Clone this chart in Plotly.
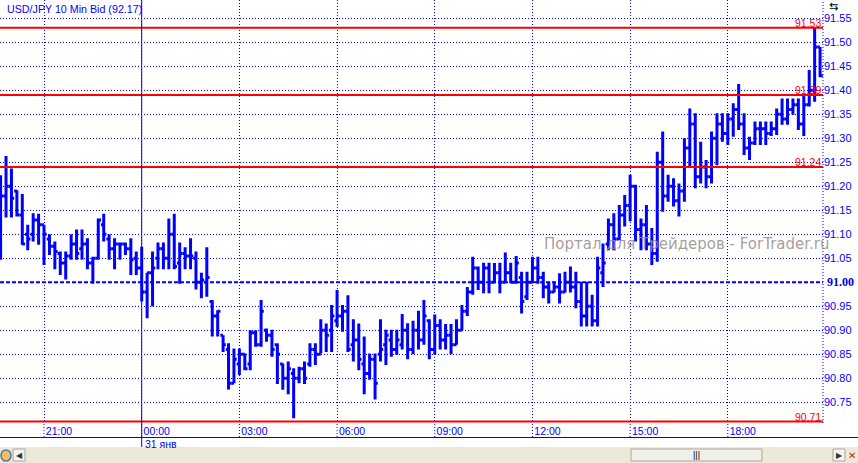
import plotly.graph_objects as go
import pandas as pd

# ---------------- data ----------------
times = pd.date_range("2010-01-30 19:40", periods=152, freq="10min")

opens = [91.15, 91.18, 91.20, 91.19, 91.14, 91.10, 91.10, 91.13, 91.12, 91.09,
         91.075, 91.06, 91.04, 91.055, 91.08, 91.07, 91.08, 91.04, 91.05, 91.12,
         91.09, 91.07, 91.08, 91.08, 91.07, 91.05, 91.03, 90.98, 91.02, 91.05,
         91.07, 91.05, 91.10, 91.04, 91.06, 91.055, 91.05, 91.00, 91.00, 90.96,
         90.93, 90.89, 90.86, 90.79, 90.83, 90.85, 90.83, 90.895, 90.87, 90.90,
         90.89, 90.87, 90.83, 90.80, 90.81, 90.80, 90.82, 90.83, 90.86, 90.85,
         90.90, 90.90, 90.92, 90.93, 90.94, 90.87, 90.88, 90.83, 90.81, 90.84,
         90.85, 90.87, 90.88, 90.86, 90.87, 90.90, 90.86, 90.90, 90.88, 90.92,
         90.86, 90.91, 90.88, 90.89, 90.87, 90.90, 90.94, 90.98, 91.03, 91.00,
         91.03, 91.00, 91.02, 91.00, 91.02, 91.00, 91.01, 90.97, 91.00, 91.03,
         91.01, 90.99, 90.98, 90.99, 90.98, 91.00, 90.99, 90.96, 90.93, 90.95,
         90.92, 91.02, 91.08, 91.12, 91.09, 91.14, 91.16, 91.20, 91.11, 91.12,
         91.08, 91.06, 91.25, 91.18, 91.20, 91.17, 91.19, 91.28, 91.33, 91.22,
         91.24, 91.22, 91.30, 91.33, 91.31, 91.34, 91.36, 91.33, 91.28, 91.29,
         91.32, 91.32, 91.31, 91.32, 91.35, 91.34, 91.36, 91.37, 91.33, 91.37,
         91.40, 91.49]
highs = [91.223, 91.263, 91.237, 91.192, 91.184, 91.12, 91.144, 91.143, 91.12, 91.10,
         91.085, 91.064, 91.064, 91.10, 91.11, 91.11, 91.092, 91.053, 91.133, 91.143,
         91.10, 91.092, 91.083, 91.083, 91.092, 91.064, 91.074, 91.02, 91.064, 91.083,
         91.083, 91.133, 91.143, 91.083, 91.073, 91.092, 91.064, 91.02, 91.073, 90.963,
         90.942, 90.89, 90.873, 90.862, 90.862, 90.852, 90.90, 90.90, 90.963, 90.904,
         90.901, 90.873, 90.831, 90.835, 90.821, 90.824, 90.835, 90.873, 90.873, 90.923,
         90.914, 90.953, 90.984, 90.953, 90.973, 90.923, 90.914, 90.887, 90.852, 90.852,
         90.923, 90.901, 90.901, 90.901, 90.934, 90.915, 90.92, 90.941, 90.963, 90.923,
         90.933, 90.923, 90.913, 90.913, 90.923, 90.953, 90.99, 91.053, 91.033, 91.041,
         91.041, 91.04, 91.041, 91.062, 91.041, 91.055, 91.022, 91.022, 91.053, 91.053,
         91.022, 91.001, 91.001, 91.019, 91.022, 91.033, 91.022, 91.001, 91.001, 90.974,
         91.053, 91.081, 91.133, 91.144, 91.161, 91.182, 91.224, 91.203, 91.133, 91.161,
         91.113, 91.272, 91.314, 91.224, 91.217, 91.206, 91.30, 91.362, 91.352, 91.293,
         91.255, 91.314, 91.352, 91.352, 91.352, 91.373, 91.413, 91.352, 91.303, 91.335,
         91.335, 91.335, 91.335, 91.362, 91.383, 91.383, 91.383, 91.383, 91.39, 91.442,
         91.531, 91.49]
lows = [91.047, 91.135, 91.135, 91.137, 91.078, 91.067, 91.085, 91.078, 91.036, 91.057,
        91.027, 91.015, 91.006, 91.047, 91.047, 91.047, 91.027, 90.997, 91.047, 91.085,
        91.047, 91.027, 91.047, 91.057, 91.015, 91.015, 90.960, 90.925, 90.950, 91.027,
        91.027, 91.027, 91.027, 90.997, 91.027, 91.027, 90.985, 90.967, 90.97, 90.887,
        90.887, 90.855, 90.777, 90.79, 90.807, 90.817, 90.817, 90.866, 90.866, 90.876,
        90.845, 90.788, 90.776, 90.767, 90.717, 90.79, 90.788, 90.824, 90.828, 90.852,
        90.855, 90.855, 90.907, 90.897, 90.855, 90.835, 90.817, 90.767, 90.797, 90.756,
        90.835, 90.828, 90.845, 90.849, 90.86, 90.84, 90.85, 90.86, 90.87, 90.84,
        90.85, 90.86, 90.86, 90.85, 90.87, 90.90, 90.93, 90.974, 90.984, 90.977,
        90.977, 90.998, 90.977, 90.998, 90.998, 90.997, 90.935, 90.963, 90.998, 90.997,
        90.967, 90.956, 90.979, 90.956, 90.979, 90.979, 90.946, 90.908, 90.908, 90.908,
        90.908, 90.99, 91.067, 91.067, 91.088, 91.116, 91.127, 91.085, 91.067, 91.067,
        91.036, 91.043, 91.147, 91.168, 91.158, 91.137, 91.168, 91.238, 91.196, 91.206,
        91.196, 91.206, 91.244, 91.293, 91.286, 91.303, 91.317, 91.265, 91.255, 91.286,
        91.286, 91.286, 91.305, 91.307, 91.328, 91.328, 91.349, 91.317, 91.305, 91.366,
        91.376, 91.427]
closes = [91.18, 91.20, 91.175, 91.14, 91.08, 91.09, 91.13, 91.12, 91.10, 91.075,
          91.064, 91.04, 91.055, 91.08, 91.06, 91.08, 91.04, 91.05, 91.13, 91.10,
          91.07, 91.08, 91.08, 91.07, 91.047, 91.03, 90.98, 91.02, 91.03, 91.07,
          91.05, 91.10, 91.033, 91.06, 91.055, 91.055, 91.00, 91.005, 91.01, 90.93,
          90.94, 90.87, 90.79, 90.84, 90.85, 90.82, 90.895, 90.87, 90.94, 90.89,
          90.86, 90.85, 90.80, 90.82, 90.80, 90.82, 90.80, 90.86, 90.85, 90.90,
          90.89, 90.93, 90.93, 90.94, 90.86, 90.88, 90.84, 90.81, 90.84, 90.79,
          90.86, 90.89, 90.86, 90.88, 90.90, 90.86, 90.90, 90.88, 90.93, 90.86,
          90.91, 90.88, 90.89, 90.87, 90.90, 90.94, 90.98, 91.03, 91.00, 91.03,
          91.00, 91.02, 91.00, 91.02, 91.00, 91.04, 90.96, 91.00, 91.03, 91.01,
          90.99, 90.98, 90.99, 90.98, 91.00, 90.99, 90.96, 90.93, 90.95, 90.92,
          91.03, 91.04, 91.12, 91.09, 91.14, 91.16, 91.20, 91.11, 91.12, 91.08,
          91.06, 91.25, 91.18, 91.20, 91.17, 91.19, 91.28, 91.33, 91.22, 91.24,
          91.22, 91.30, 91.33, 91.31, 91.34, 91.36, 91.33, 91.28, 91.29, 91.32,
          91.32, 91.31, 91.32, 91.35, 91.34, 91.36, 91.37, 91.33, 91.37, 91.40,
          91.49, 91.43]

level_lines = [91.53, 91.39, 91.24, 90.71]
base_level = 91.00
ytick_vals = [90.75, 90.80, 90.85, 90.90, 90.95, 91.05, 91.10, 91.15, 91.20,
              91.25, 91.30, 91.35, 91.40, 91.45, 91.50, 91.55]
xtick_times = ["2010-01-30 21:00", "2010-01-31 00:00", "2010-01-31 03:00",
               "2010-01-31 06:00", "2010-01-31 09:00", "2010-01-31 12:00",
               "2010-01-31 15:00", "2010-01-31 18:00"]
xtick_labels = ["21:00", "00:00", "03:00", "06:00", "09:00", "12:00", "15:00", "18:00"]
title_text = "USD/JPY 10 Min Bid (92.17)"
day_label = "31 янв"
day_time = "2010-01-31 00:00"
watermark = "Портал для Трейдеров - ForTrader.ru"

# ---------------- figure ----------------
W, H = 858, 463
ML, MR, MT, MB = 0, 35, 0, 40
PW, PH = W - ML - MR, H - MT - MB
BLUE = "#0000ff"
RED = "#ff0000"
DOT = "1px,2px"
FONT = "Liberation Sans"


def py(px_from_top):
    """paper y from pixel row"""
    return 1 - (px_from_top - MT) / PH


def px(px_from_left):
    return (px_from_left - ML) / PW


fig = go.Figure()
fig.add_trace(go.Ohlc(
    x=times, open=opens, high=highs, low=lows, close=closes,
    increasing=dict(line=dict(color=BLUE, width=3)),
    decreasing=dict(line=dict(color=BLUE, width=3)),
    tickwidth=0.5, hoverinfo="skip", showlegend=False,
))

x_start = times[0] - pd.Timedelta(minutes=1.1)
x_end = times[0] + pd.Timedelta(minutes=1515.4)

shapes = []
for lv in level_lines:
    shapes.append(dict(type="line", xref="paper", yref="y", x0=0, x1=1, y0=lv, y1=lv,
                       line=dict(color=RED, width=2), layer="above"))
shapes.append(dict(type="line", xref="paper", yref="y", x0=0, x1=1, y0=base_level, y1=base_level,
                   line=dict(color=BLUE, width=2, dash="4px,2px"), layer="above"))
for t in xtick_times:
    shapes.append(dict(type="line", xref="x", yref="paper", x0=t, x1=t, y0=py(437), y1=0,
                       line=dict(color=BLUE, width=1, dash=DOT)))
shapes.append(dict(type="line", xref="x", yref="paper", x0=day_time, x1=day_time, y0=py(448), y1=1,
                   line=dict(color=BLUE, width=1), layer="above"))
shapes.append(dict(type="line", xref="paper", yref="paper", x0=1, x1=1, y0=0, y1=1,
                   line=dict(color=BLUE, width=1, dash=DOT)))
shapes.append(dict(type="line", xref="paper", yref="paper", x0=0, x1=px(W), y0=py(437.5), y1=py(437.5),
                   line=dict(color=BLUE, width=1)))
# bottom scrollbar band
shapes.append(dict(type="rect", xref="paper", yref="paper", x0=0, x1=px(W), y0=py(H), y1=py(447),
                   fillcolor="#ece9d8", line=dict(width=0)))
shapes.append(dict(type="rect", xref="paper", yref="paper", x0=px(631), x1=px(762), y0=py(461), y1=py(449),
                   fillcolor="#f0efe8", line=dict(color="#a8a8a0", width=1)))
shapes.append(dict(type="rect", xref="paper", yref="paper", x0=px(13), x1=px(25), y0=py(461), y1=py(449),
                   fillcolor="#f4f3ee", line=dict(color="#a8a8a0", width=1)))
shapes.append(dict(type="rect", xref="paper", yref="paper", x0=px(833), x1=px(845), y0=py(461), y1=py(449),
                   fillcolor="#f4f3ee", line=dict(color="#a8a8a0", width=1)))
shapes.append(dict(type="circle", xref="paper", yref="paper", x0=px(1), x1=px(11), y0=py(461), y1=py(450),
                   fillcolor="#f2c14e", line=dict(color="#4a78c0", width=1.5)))

annotations = []
annotations.append(dict(text=title_text, xref="paper", yref="paper", x=px(5), y=py(1),
                        xanchor="left", yanchor="top", showarrow=False,
                        font=dict(family=FONT, size=10.7, color=BLUE)))
for lv in level_lines:
    annotations.append(dict(text=f"{lv:.2f}", xref="paper", yref="y", x=1, y=lv,
                            xanchor="right", yanchor="bottom", showarrow=False, yshift=-3,
                            font=dict(family=FONT, size=10.5, color=RED)))
annotations.append(dict(text=f"<b>{base_level:.2f}</b>", xref="paper", yref="y", x=px(825), y=base_level,
                        xanchor="left", yanchor="middle", showarrow=False,
                        font=dict(family="Liberation Serif", size=12, color="#0000cc")))
annotations.append(dict(text=day_label, xref="x", yref="paper", x=day_time, y=py(444),
                        xanchor="left", yanchor="middle", showarrow=False, xshift=1,
                        font=dict(family=FONT, size=10.5, color=BLUE)))
annotations.append(dict(text=watermark, xref="paper", yref="y", x=px(542),
                        y=base_level + (282.3 - 244) / 480,
                        xanchor="left", yanchor="middle", showarrow=False,
                        font=dict(family="DejaVu Sans", size=15, color="rgba(150,140,140,0.85)")))
annotations.append(dict(text="⇆", xref="paper", yref="paper", x=px(834), y=py(6),
                        xanchor="center", yanchor="middle", showarrow=False,
                        font=dict(family="DejaVu Sans", size=11, color="#000")))
annotations.append(dict(text="◀", xref="paper", yref="paper", x=px(19), y=py(455),
                        xanchor="center", yanchor="middle", showarrow=False,
                        font=dict(family="DejaVu Sans", size=8, color="#333")))
annotations.append(dict(text="▶", xref="paper", yref="paper", x=px(839), y=py(455),
                        xanchor="center", yanchor="middle", showarrow=False,
                        font=dict(family="DejaVu Sans", size=8, color="#333")))
annotations.append(dict(text="✕", xref="paper", yref="paper", x=px(852), y=py(455),
                        xanchor="center", yanchor="middle", showarrow=False,
                        font=dict(family="DejaVu Sans", size=10, color="#d02020")))
annotations.append(dict(text="|||", xref="paper", yref="paper", x=px(696), y=py(455),
                        xanchor="center", yanchor="middle", showarrow=False,
                        font=dict(family=FONT, size=9, color="#000")))

fig.update_layout(
    width=W, height=H,
    margin=dict(l=ML, r=MR, t=MT, b=MB, pad=0),
    paper_bgcolor="white", plot_bgcolor="white",
    showlegend=False,
    shapes=shapes, annotations=annotations,
    xaxis=dict(type="date", range=[x_start, x_end], rangeslider=dict(visible=False),
               tickvals=xtick_times, ticktext=xtick_labels,
               showgrid=True, gridcolor=BLUE, gridwidth=1, griddash=DOT,
               zeroline=False, showline=False, ticks="",
               ticklabelshift=15, ticklabelstandoff=0,
               tickfont=dict(family=FONT, size=10.5, color=BLUE)),
    yaxis=dict(side="right", range=[90.707, 91.588],
               tickvals=ytick_vals, ticktext=[f"{v:.2f}" for v in ytick_vals],
               showgrid=True, gridcolor=BLUE, gridwidth=1, griddash=DOT,
               zeroline=False, showline=False, ticks="", ticklabelstandoff=0,
               tickfont=dict(family=FONT, size=11, color=BLUE)),
)

fig.write_html("out.html", config={"displayModeBar": False},
               post_script="document.body.style.margin='0';document.body.style.overflow='hidden';")
